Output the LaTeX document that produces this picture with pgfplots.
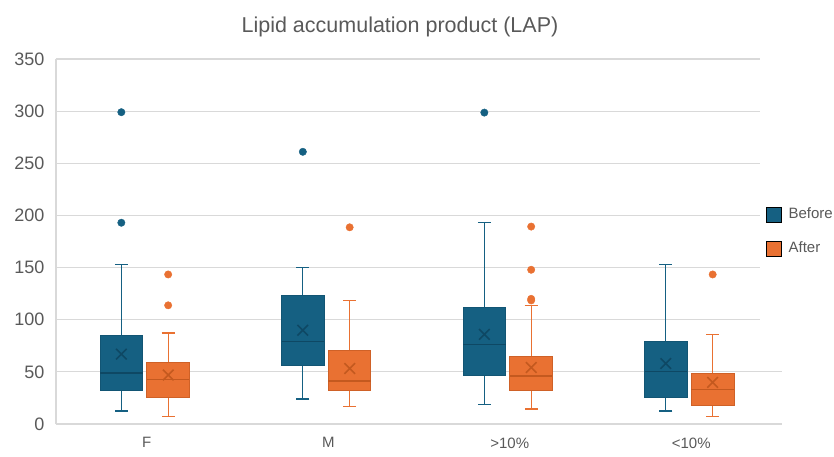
\documentclass[border=0pt]{standalone}
\usepackage{fontspec}
\setmainfont{Liberation Sans}
\usepackage{pgfplots}
\usepackage{pgfplotstable}
\pgfplotsset{compat=1.18}
\definecolor{befc}{HTML}{156082}
\definecolor{befb}{HTML}{125574}
\definecolor{befm}{HTML}{0E4864}
\definecolor{aftc}{HTML}{E97132}
\definecolor{aftb}{HTML}{CF6127}
\definecolor{aftm}{HTML}{C4591F}
\definecolor{gridc}{HTML}{D9D9D9}
\definecolor{txt}{HTML}{595959}
% pos = box centre, lw/uw = whisker ends, q1/q3 = quartiles
\pgfplotstableread{
pos    lw    q1    med   q3    uw    mean
-0.14  12.4  32.5  49.0  84.4  152.7 67.0
0.86   23.9  56.1  79.3  123.0 150.4 89.9
1.86   18.8  46.8  76.2  111.9 193.1 86.0
2.86   12.4  25.5  50.4  79.3  152.7 58.0
}\before
\pgfplotstableread{
pos    lw    q1    med   q3    uw    mean
0.118  7.0   25.5  42.7  59.0  87.3  47.0
1.118  16.6  32.5  41.1  70.1  118.5 53.2
2.118  14.3  32.5  45.9  65.0  113.8 54.2
3.118  7.3   18.2  32.8  48.8  85.8  39.9
}\after
\pgfplotsset{
  whisk/.style={draw=none, forget plot, error bars/.cd, y dir=both, y explicit,
    error mark=|, error bar style={draw=#1, line width=1pt},
    error mark options={draw=#1, line width=1.2pt, mark size=6.5pt}},
  med/.style={draw=none, forget plot, error bars/.cd, x dir=both, x fixed=0.1175,
    error mark=none, error bar style={draw=#1, line width=1.3pt}},
  outl/.style={only marks, mark=*, mark size=3.7pt, mark options={fill=#1, draw=#1}, forget plot},
  meanx/.style={only marks, mark=x, mark size=7.5pt, mark options={draw=#1, line width=1.6pt}, forget plot},
}
\begin{document}
\begin{tikzpicture}
\useasboundingbox (-56pt,-33pt) rectangle (778pt,424pt);
\begin{axis}[
  at={(0pt,0pt)}, anchor=south west,
  scale only axis, width=726pt, height=365pt,
  xmin=-0.5, xmax=3.5, ymin=0, ymax=350,
  xtick={0,1,2,3}, xticklabels={F,M,>10\%,<10\%},
  ytick={0,50,...,350},
  yticklabel={\pgfmathprintnumber[assume math mode=true]{\tick}},
  /pgf/number format/assume math mode=true,
  axis lines=left, axis line style={-, draw=gridc, line width=1.2pt},
  major tick length=0pt,
  ymajorgrids, grid style={draw=gridc, line width=1.2pt},
  yticklabel style={font=\fontsize{18}{20}\selectfont, text=txt, xshift=-8pt},
  xticklabel style={font=\fontsize{15}{17}\selectfont, text=txt, yshift=-10pt},
  title={Lipid accumulation product (LAP)},
  title style={font=\fontsize{21.5}{24}\selectfont, text=txt, at={(0.4738,1)}, anchor=center, yshift=26.5pt},
  legend style={at={(0.978,0.5267)}, anchor=west, draw=none, fill=none,
    inner sep=0pt, column sep=7pt, row sep=19pt,
    nodes={inner sep=0pt, text=txt, font=\fontsize{15}{17}\selectfont, text height=11pt, text depth=3pt}},
  legend cell align=left,
  legend image code/.code={\fill[#1] (0pt,-7.5pt) rectangle (15pt,7.5pt);},
]
\fill[white] (rel axis cs:0.9697,0.216) rectangle (rel axis cs:1.02,1.02);
% whiskers with caps
\addplot[whisk=befc] table[x=pos, y=med, y error plus expr=\thisrow{uw}-\thisrow{med}, y error minus expr=\thisrow{med}-\thisrow{lw}] {\before};
\addplot[whisk=aftc] table[x=pos, y=med, y error plus expr=\thisrow{uw}-\thisrow{med}, y error minus expr=\thisrow{med}-\thisrow{lw}] {\after};
% boxes (q1 to q3)
\addplot[fill=befc, draw=befb, line width=1pt, forget plot] coordinates {(-0.2575,32.5) (-0.0225,32.5) (-0.0225,84.4) (-0.2575,84.4)} -- cycle;
\addplot[fill=befc, draw=befb, line width=1pt, forget plot] coordinates {(0.7425,56.1) (0.9775,56.1) (0.9775,123) (0.7425,123)} -- cycle;
\addplot[fill=befc, draw=befb, line width=1pt, forget plot] coordinates {(1.7425,46.8) (1.9775,46.8) (1.9775,111.9) (1.7425,111.9)} -- cycle;
\addplot[fill=befc, draw=befb, line width=1pt, forget plot] coordinates {(2.7425,25.5) (2.9775,25.5) (2.9775,79.3) (2.7425,79.3)} -- cycle;
\addplot[fill=aftc, draw=aftb, line width=1pt, forget plot] coordinates {(0.0005,25.5) (0.2355,25.5) (0.2355,59) (0.0005,59)} -- cycle;
\addplot[fill=aftc, draw=aftb, line width=1pt, forget plot] coordinates {(1.0005,32.5) (1.2355,32.5) (1.2355,70.1) (1.0005,70.1)} -- cycle;
\addplot[fill=aftc, draw=aftb, line width=1pt, forget plot] coordinates {(2.0005,32.5) (2.2355,32.5) (2.2355,65) (2.0005,65)} -- cycle;
\addplot[fill=aftc, draw=aftb, line width=1pt, forget plot] coordinates {(3.0005,18.2) (3.2355,18.2) (3.2355,48.8) (3.0005,48.8)} -- cycle;
% medians
\addplot[med=befm] table[x=pos, y=med] {\before};
\addplot[med=aftm] table[x=pos, y=med] {\after};
% means
\addplot[meanx=befm] table[x=pos, y=mean] {\before};
\addplot[meanx=aftm] table[x=pos, y=mean] {\after};
% outliers
\addplot[outl=befc] coordinates {(-0.14,299) (-0.14,193) (0.86,261) (1.86,298.6)};
\addplot[outl=aftc] coordinates {(0.118,143.4) (0.118,113.8) (1.118,188.6) (2.118,189.3) (2.118,147.9) (2.118,118.5) (2.118,120) (3.118,143.4)};
% legend
\addlegendimage{fill=befc}
\addlegendentry{Before}
\addlegendimage{fill=aftc}
\addlegendentry{After}
\end{axis}
\end{tikzpicture}
\end{document}
